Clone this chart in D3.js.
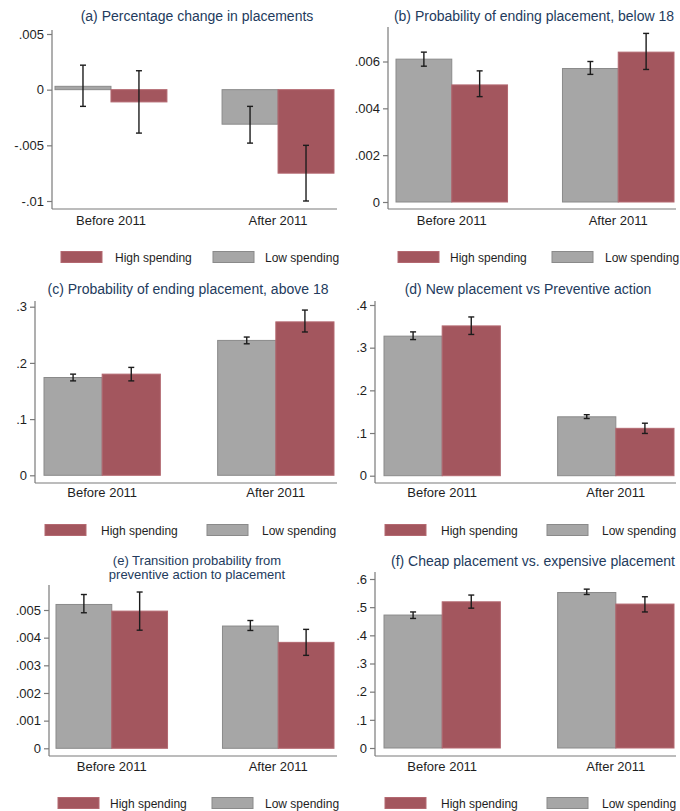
<!DOCTYPE html>
<html>
<head>
<meta charset="utf-8">
<script src="https://cdn.jsdelivr.net/npm/d3@7"></script>
<style>
    body { margin: 0; background: white; }
    text { font-family: "Liberation Sans", Arial, sans-serif; }
</style>
</head>
<body>
<div id="chart"></div>
<script>

// data
var groups = ["Before 2011", "After 2011"];
var seriesNames = ["Low spending", "High spending"];
var legendNames = ["High spending", "Low spending"];

var panelTitles = [
    ["(a) Percentage change in placements"],
    ["(b) Probability of ending placement, below 18"],
    ["(c) Probability of ending placement, above 18"],
    ["(d) New placement vs Preventive action"],
    ["(e) Transition probability from", "preventive action to placement"],
    ["(f) Cheap placement vs. expensive placement"]
];

var yTicks = [
    [-0.01, -0.005, 0, 0.005],
    [0, 0.002, 0.004, 0.006],
    [0, 0.1, 0.2, 0.3],
    [0, 0.1, 0.2, 0.3, 0.4],
    [0, 0.001, 0.002, 0.003, 0.004, 0.005],
    [0, 0.1, 0.2, 0.3, 0.4, 0.5, 0.6]
];

var yTickLabels = [
    ["-.01", "-.005", "0", ".005"],
    ["0", ".002", ".004", ".006"],
    ["0", ".1", ".2", ".3"],
    ["0", ".1", ".2", ".3", ".4"],
    ["0", ".001", ".002", ".003", ".004", ".005"],
    ["0", ".1", ".2", ".3", ".4", ".5", ".6"]
];

var lowMean  = [[0.0003, -0.0031], [0.0061, 0.0057], [0.174, 0.240], [0.327, 0.138], [0.0052, 0.00442], [0.472, 0.552]];
var lowLo    = [[-0.0015, -0.0048], [0.0058, 0.00545], [0.168, 0.234], [0.319, 0.134], [0.0049, 0.00426], [0.460, 0.545]];
var lowHi    = [[0.0022, -0.0015], [0.0064, 0.0060], [0.180, 0.246], [0.337, 0.143], [0.00556, 0.00462], [0.483, 0.564]];

var highMean = [[-0.0011, -0.0075], [0.0050, 0.0064], [0.180, 0.273], [0.351, 0.111], [0.00496, 0.00383], [0.519, 0.511]];
var highLo   = [[-0.0039, -0.0100], [0.0045, 0.00566], [0.168, 0.255], [0.331, 0.099], [0.00427, 0.00336], [0.4965, 0.483]];
var highHi   = [[0.0017, -0.0050], [0.0056, 0.0072], [0.192, 0.294], [0.372, 0.123], [0.00565, 0.0043], [0.543, 0.537]];

// panel geometry in page pixels
var layout = [
    {axisX: 52,  right: 337, top: 30,  bottom: 209, yPx: [201, 34],    barL: 55,  barR: 334, titleX: 197, titleY: [21],       titleSize: 14, labelY: 225, legendY: 257, legendX: [61, 115, 213, 265]},
    {axisX: 388, right: 676, top: 27,  bottom: 209, yPx: [202, 61.5],  barL: 396, barR: 674, titleX: 534, titleY: [21],       titleSize: 14, labelY: 225, legendY: 257, legendX: [398, 450, 552, 605]},
    {axisX: 35,  right: 337, top: 301, bottom: 483, yPx: [475.3, 306.7], barL: 44, barR: 334, titleX: 188, titleY: [294],      titleSize: 14, labelY: 497, legendY: 530, legendX: [45, 101, 207, 262]},
    {axisX: 375, right: 676, top: 301, bottom: 483, yPx: [475.7, 305], barL: 384, barR: 674, titleX: 528, titleY: [294],      titleSize: 14, labelY: 497, legendY: 530, legendX: [385, 441, 547, 602]},
    {axisX: 49,  right: 337, top: 585, bottom: 756, yPx: [748.3, 610], barL: 56,  barR: 334, titleX: 197, titleY: [565, 579], titleSize: 13, labelY: 771, legendY: 803, legendX: [58, 110, 212, 265]},
    {axisX: 375, right: 676, top: 572, bottom: 756, yPx: [748, 579],   barL: 384, barR: 674, titleX: 533, titleY: [566],      titleSize: 14, labelY: 771, legendY: 803, legendX: [385, 441, 547, 602]}
];

var cs = {
    low: "#a6a6a6",
    lowEdge: "#8a8a8a",
    high: "#a3565e",
    highEdge: "#b36870",
    axis: "#7a7a7a",
    text: "#1e1e1e",
    title: "#233b5d",
    ci: "#1c1c1c"
};

var svg = d3.select("#chart")
    .append("svg")
    .attr("width", 680)
    .attr("height", 811)
    .style("background", "white");

BarPanel = function(i, svg){

    this.i = i;
    this.lay = layout[i];
    this._g = svg.append("g").attr("class", "panel panel-" + i);

    var ticks = yTicks[i];
    this.y = d3.scaleLinear()
        .domain([ticks[0], ticks[ticks.length - 1]])
        .range(this.lay.yPx);

    this.x = d3.scaleBand()
        .domain(groups)
        .range([this.lay.barL, this.lay.barR])
        .paddingInner(0.33)
        .paddingOuter(0);

    this.xs = d3.scaleBand()
        .domain(seriesNames)
        .range([0, this.x.bandwidth()]);

    this._draw_all();
};

BarPanel.prototype._draw_all = function(){

    this._draw_title();
    this._draw_bars();
    this._draw_ci();
    this._draw_axes();
    this._draw_legend();

};

BarPanel.prototype._rows = function(){

    var i = this.i;
    var rows = [];
    groups.forEach(function(gName, gi){
        rows.push({group: gName, series: "Low spending", v: lowMean[i][gi], lo: lowLo[i][gi], hi: lowHi[i][gi]});
        rows.push({group: gName, series: "High spending", v: highMean[i][gi], lo: highLo[i][gi], hi: highHi[i][gi]});
    });
    return rows;

};

BarPanel.prototype._draw_title = function(){

    var lay = this.lay;
    this._g.selectAll("text.title")
        .data(panelTitles[this.i])
        .enter()
        .append("text")
        .attr("class", "title")
        .attr("x", lay.titleX)
        .attr("y", function(d, k){ return lay.titleY[k]; })
        .attr("text-anchor", "middle")
        .style("font-size", lay.titleSize + "px")
        .style("fill", cs.title)
        .text(function(d){ return d; });

};

BarPanel.prototype._draw_bars = function(){

    var self = this;
    var y0 = this.y(0);

    this._g.selectAll("rect.bar")
        .data(this._rows())
        .enter()
        .append("rect")
        .attr("class", "bar")
        .attr("x", function(d){ return self.x(d.group) + self.xs(d.series); })
        .attr("width", this.xs.bandwidth())
        .attr("y", function(d){ return Math.min(self.y(d.v), y0); })
        .attr("height", function(d){ return Math.abs(self.y(d.v) - y0); })
        .style("fill", function(d){ return d.series == "Low spending" ? cs.low : cs.high; })
        .style("stroke", function(d){ return d.series == "Low spending" ? cs.lowEdge : cs.highEdge; })
        .style("stroke-width", 1);

};

BarPanel.prototype._draw_ci = function(){

    var self = this;
    var cap = 3;

    var ci = this._g.selectAll("g.ci")
        .data(this._rows())
        .enter()
        .append("g")
        .attr("class", "ci")
        .attr("transform", function(d){
            return "translate(" + (self.x(d.group) + self.xs(d.series) + self.xs.bandwidth() / 2) + ",0)";
        });

    ci.append("line")
        .attr("y1", function(d){ return self.y(d.lo); })
        .attr("y2", function(d){ return self.y(d.hi); });

    ci.append("line")
        .attr("x1", -cap).attr("x2", cap)
        .attr("y1", function(d){ return self.y(d.lo); })
        .attr("y2", function(d){ return self.y(d.lo); });

    ci.append("line")
        .attr("x1", -cap).attr("x2", cap)
        .attr("y1", function(d){ return self.y(d.hi); })
        .attr("y2", function(d){ return self.y(d.hi); });

    ci.selectAll("line")
        .style("stroke", cs.ci)
        .style("stroke-width", 1.4);

};

BarPanel.prototype._draw_axes = function(){

    var lay = this.lay;
    var labels = yTickLabels[this.i];

    var yAxis = d3.axisLeft(this.y)
        .tickValues(yTicks[this.i])
        .tickFormat(function(d, k){ return labels[k]; })
        .tickSize(5)
        .tickPadding(3);

    var ga = this._g.append("g")
        .attr("transform", "translate(" + lay.axisX + ",0)")
        .call(yAxis);

    ga.select(".domain").remove();
    ga.selectAll(".tick line").style("stroke", cs.axis).style("stroke-width", 1.2);
    ga.selectAll(".tick text")
        .style("font-size", "13px")
        .style("font-family", "'Liberation Sans', Arial, sans-serif")
        .style("fill", cs.text);

    // axis lines run the full plot region
    this._g.append("line")
        .attr("x1", lay.axisX).attr("x2", lay.axisX)
        .attr("y1", lay.top).attr("y2", lay.bottom)
        .style("stroke", cs.axis).style("stroke-width", 1.2);

    this._g.append("line")
        .attr("x1", lay.axisX).attr("x2", lay.right)
        .attr("y1", lay.bottom).attr("y2", lay.bottom)
        .style("stroke", cs.axis).style("stroke-width", 1.2);

    var self = this;
    this._g.selectAll("text.xlab")
        .data(groups)
        .enter()
        .append("text")
        .attr("class", "xlab")
        .attr("x", function(d){ return self.x(d) + self.x.bandwidth() / 2; })
        .attr("y", lay.labelY)
        .attr("text-anchor", "middle")
        .style("font-size", "13px")
        .style("fill", cs.text)
        .text(function(d){ return d; });

};

BarPanel.prototype._draw_legend = function(){

    var lay = this.lay;
    var sw = 41, sh = 11;

    var items = this._g.selectAll("g.leg")
        .data(legendNames)
        .enter()
        .append("g")
        .attr("class", "leg");

    items.append("rect")
        .attr("x", function(d, k){ return lay.legendX[k * 2]; })
        .attr("y", lay.legendY - sh / 2)
        .attr("width", sw)
        .attr("height", sh)
        .style("fill", function(d){ return d == "High spending" ? cs.high : cs.low; })
        .style("stroke", function(d){ return d == "High spending" ? cs.highEdge : cs.lowEdge; });

    items.append("text")
        .attr("x", function(d, k){ return lay.legendX[k * 2 + 1]; })
        .attr("y", lay.legendY + 4.5)
        .style("font-size", "12px")
        .style("fill", cs.text)
        .text(function(d){ return d; });

};

for (var i = 0; i < layout.length; i++) {
    new BarPanel(i, svg);
}

</script>
</body>
</html>
